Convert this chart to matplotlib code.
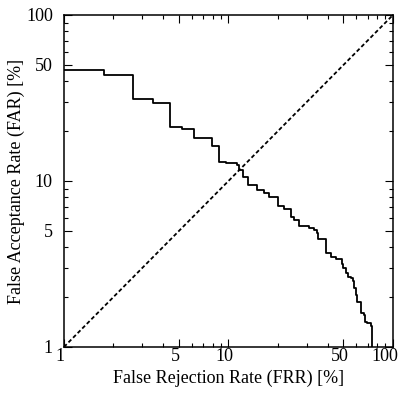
import matplotlib
matplotlib.use("Agg")
import matplotlib.pyplot as plt
import matplotlib.transforms as mtransforms

plt.rcParams['font.family'] = ['Liberation Serif', 'DejaVu Serif']

# step curve: FRR breakpoints and FAR levels (step 'post')
frr = [1.0, 1.75, 2.63, 3.48, 4.39, 5.24, 6.14, 7.92, 8.82, 9.68, 11.3, 11.55,
       12.21, 13.22, 14.85, 16.37, 17.55, 19.9, 21.8, 24.0, 25.1, 26.9, 31.0,
       33.2, 34.3, 34.8, 39.3, 41.9, 44.9, 49.3, 49.8, 51.7, 53.4, 55.4, 57.2,
       58.2, 59.4, 60.8, 63.7, 64.2, 66.7, 67.2, 69.9, 73.3, 74.3, 74.3]
far = [46.6, 43.5, 31.3, 29.4, 21.1, 20.7, 18.1, 16.3, 13.0, 12.8, 12.5, 11.65,
       10.61, 9.4, 8.83, 8.51, 8.04, 7.07, 6.75, 6.10, 5.8, 5.36, 5.19,
       5.07, 4.84, 4.5, 3.67, 3.50, 3.37, 3.16, 2.98, 2.78, 2.65, 2.59, 2.51,
       2.26, 2.06, 1.87, 1.82, 1.60, 1.56, 1.42, 1.39, 1.33, 1.30, 1.0]

eer_line = [1, 100]

major_ticks = [1, 5, 10, 50, 100]
major_labels = ['1', '5', '10', '50', '100']
minor_ticks = [2, 3, 4, 6, 7, 8, 9, 20, 30, 40, 60, 70, 80, 90]

fig = plt.figure(figsize=(4.02, 3.94), dpi=100)
ax = fig.add_axes([0.159, 0.1193, 0.8186, 0.8427])

ax.step(frr, far, where='post', color='black', lw=1.3)
ax.plot(eer_line, eer_line, color='black', lw=1.3, dashes=(2.2, 1.4))

ax.set_xscale('log')
ax.set_yscale('log')
ax.set_xlim(1, 100)
ax.set_ylim(1, 100)

ax.set_xticks(major_ticks)
ax.set_xticklabels(major_labels)
ax.set_yticks(major_ticks)
ax.set_yticklabels(major_labels)
ax.set_xticks(minor_ticks, minor=True)
ax.set_yticks(minor_ticks, minor=True)
ax.set_xticklabels([], minor=True)
ax.set_yticklabels([], minor=True)

ax.tick_params(which='both', direction='in', top=True, right=True, width=0.8,
               labelsize=13, colors='black')
ax.tick_params(which='major', length=5.5)
ax.tick_params(which='minor', length=3)
ax.tick_params(axis='x', pad=1)
ax.tick_params(axis='y', pad=8)

for sp in ax.spines.values():
    sp.set_linewidth(1.1)

# nudge x tick labels a little left, the last one more so it fits
for i, lab in enumerate(ax.get_xticklabels()):
    dx = -8 if i == len(major_ticks) - 1 else -4
    lab.set_transform(lab.get_transform() +
                      mtransforms.ScaledTranslation(dx / 100, 0, fig.dpi_scale_trans))

ax.set_xlabel('False Rejection Rate (FRR) [%]', fontsize=13, labelpad=3)
ax.set_ylabel('False Acceptance Rate (FAR) [%]', fontsize=13, labelpad=1)

fig.savefig('out.png', dpi=100)
